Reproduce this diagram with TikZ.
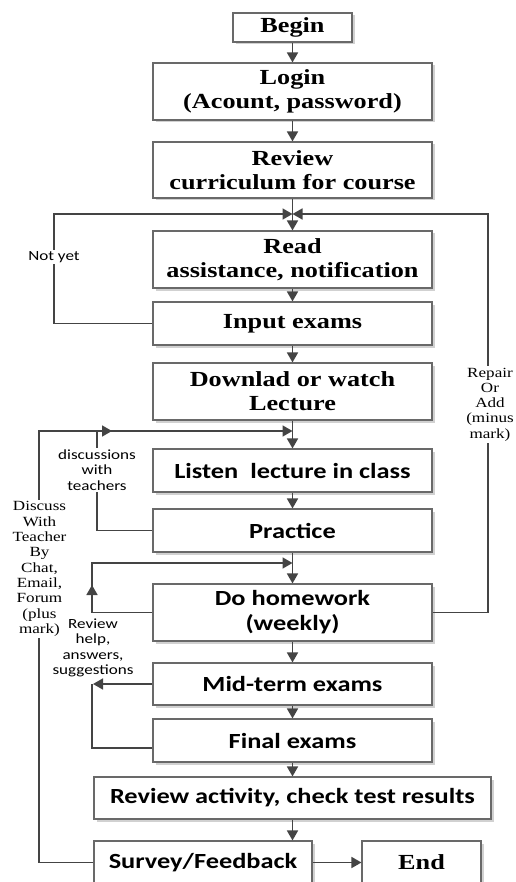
\documentclass[tikz,border=0pt]{standalone}
\usepackage{fontspec}
\setmainfont[FakeStretch=1.22]{Liberation Serif}
\newfontfamily\calr[FakeStretch=1.22]{Carlito}
\usetikzlibrary{arrows.meta,shadows,calc}
\definecolor{linec}{RGB}{68,68,68}
\definecolor{boxc}{RGB}{105,105,105}
\tikzset{
  box/.style={draw=boxc, line width=1.1pt, fill=white, inner sep=0pt, align=center,
    drop shadow={shadow xshift=2.5pt, shadow yshift=-2.5pt, fill=black, opacity=0.18}},
  serbox/.style={box, font={\rmfamily\bfseries\fontsize{21.5}{24}\selectfont}},
  sanbox/.style={box, font={\calr\bfseries\fontsize{21.6}{25}\selectfont}},
  arr/.style={-{Triangle[length=10pt,width=11pt]}, line width=1.7pt, draw=linec},
  ln/.style={line width=1.7pt, draw=linec},
  lbls/.style={font={\calr\fontsize{14}{15.3}\selectfont}, fill=white, inner sep=1.5pt, align=center},
  lblr/.style={font={\rmfamily\fontsize{14}{15.3}\selectfont}, fill=white, inner sep=1.5pt, align=center},
}
\begin{document}
\begin{tikzpicture}[x=1pt,y=-1pt]
\useasboundingbox (0,0) rectangle (515,882);
% boxes
\node[serbox, minimum width=119pt, minimum height=29pt] (begin) at (292.5,27.5) {Begin};
\node[serbox, minimum width=279pt, minimum height=57pt] (login) at (292.5,91.5) {Login\\(Acount, password)};
\node[serbox, minimum width=279pt, minimum height=56pt] (review) at (292.5,170) {Review\\curriculum for course};
\node[serbox, minimum width=279pt, minimum height=57pt] (read) at (292.5,259.5) {Read\\assistance, notification};
\node[serbox, minimum width=279pt, minimum height=43pt] (input) at (292.5,323.5) {Input exams};
\node[serbox, minimum width=279pt, minimum height=57pt] (download) at (292.5,391.5) {Downlad or watch\\Lecture};
\node[sanbox, minimum width=279pt, minimum height=43pt] (listen) at (292.5,470.5) {Listen\ \ lecture in class};
\node[sanbox, minimum width=279pt, minimum height=43pt] (practice) at (292.5,530.5) {Practice};
\node[sanbox, minimum width=279pt, minimum height=57pt] (hw) at (292.5,612.5) {Do homework\\(weekly)};
\node[sanbox, minimum width=279pt, minimum height=42pt] (mid) at (292.5,684) {Mid-term exams};
\node[sanbox, minimum width=279pt, minimum height=43pt] (final) at (292.5,740.5) {Final exams};
\node[sanbox, minimum width=397pt, minimum height=42pt] (ra) at (292.5,798) {Review activity, check test results};
\node[sanbox, minimum width=218pt, minimum height=43pt] (survey) at (203,862.5) {Survey/Feedback};
\node[serbox, minimum width=119pt, minimum height=43pt] (end) at (421.5,862.5) {End};
% merge points
\coordinate (m1) at (292.5,214);
\coordinate (m2) at (292.5,431);
\coordinate (m3) at (292.5,563);
\coordinate (mx) at (93,684);
\coordinate (dk) at (112,431);
% main flow
\draw[arr] (begin) -- (login);
\draw[arr] (login) -- (review);
\draw[arr] (review) -- (read);
\draw[arr] (read) -- (input);
\draw[arr] (input) -- (download);
\draw[arr] (download) -- (listen);
\draw[arr] (listen) -- (practice);
\draw[arr] (practice) -- (hw);
\draw[arr] (hw) -- (mid);
\draw[arr] (mid) -- (final);
\draw[arr] (final) -- (ra);
\draw[arr] (ra.south) -- (ra.south |- survey.north);
\draw[arr] (survey) -- (end);
% loops
\draw[arr] (input.west) -| (54,214) -- (m1);
\draw[arr] (hw.east) -| (488,214) -- (m1);
\draw[arr] (practice.west) -| (97,431) -- (m2);
\draw[arr] (survey.west) -| (39,431) -- (dk);
\draw[arr] (hw.west) -| (92,563) -- (m3);
\draw[arr] (hw.west -| 92,0) -- (92,585);
\draw[arr] (mid.west) -- (mx);
\draw[ln] ($(final.west)+(0,7.5)$) -| (92,684);
% labels
\node[lbls] (notyet) at (54,257) {Not yet};
\node[lbls] (disc) at (97,470) {discussions\\with\\teachers};
\node[lbls, fill=none] (revh) at (93,648) {Review\\help,\\answers,\\suggestions};
\node[lblr] (dwt) at (39.5,569) {Discuss\\With\\Teacher\\By\\Chat,\\Email,\\Forum\\(plus\\mark)};
\node[lblr] (rep) at (490,404.5) {Repair\\Or\\Add\\(minus\\mark)};
\end{tikzpicture}
\end{document}
